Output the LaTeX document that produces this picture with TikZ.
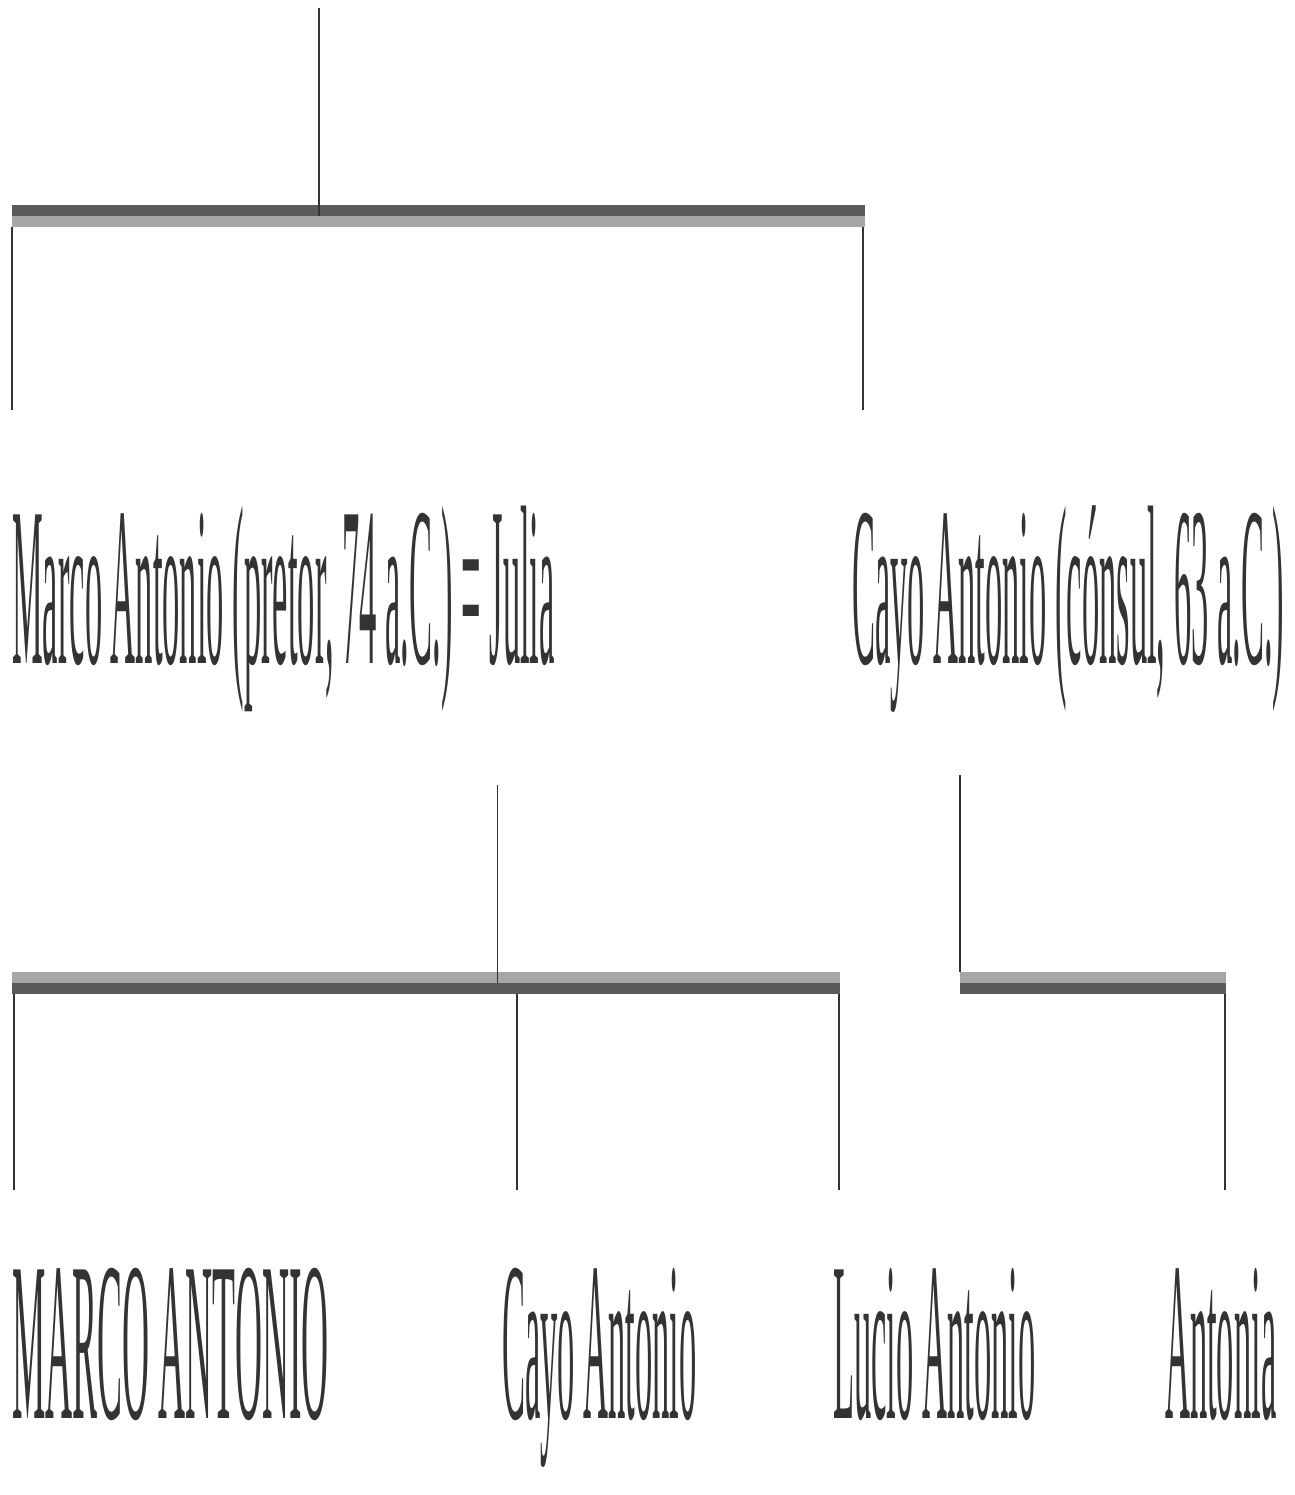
\documentclass[tikz,border=0pt]{standalone}
\usepackage{fontspec}
\setmainfont{Liberation Serif}
\usetikzlibrary{positioning}
\definecolor{BarDark}{HTML}{5A5A5A}
\definecolor{BarLight}{HTML}{A6A6A6}
\definecolor{Ink}{HTML}{333333}
\newcommand{\tallname}[2][1.52]{\scalebox{#1}[10]{#2}}

\begin{document}
\begin{tikzpicture}[x=1pt,y=-1pt,
  person/.style={anchor=base west,inner sep=0pt,font=\fontsize{22.7}{26}\selectfont,text=Ink},
  link/.style={draw=Ink,line width=1.6pt},
  band/.style={draw=#1,line width=11pt}
]
\useasboundingbox (0,0) rectangle (1294,1495);

% first generation
\node[person] (marco) at (12,663) {\tallname{Marco Antonio (pretor, 74 a.C.) =}};
\node[person] (julia) at ([xshift=8.6pt]marco.base east) {\tallname{Julia}};
\node[person] (cayocos) at (852,663) {\tallname{Cayo Antonio (cónsul, 63 a.C.)}};

% second generation
\node[person] (triumvir) at (12,1418) {\tallname[1.65]{MARCO ANTONIO}};
\node[person] (cayo) at (502,1418) {\tallname{Cayo Antonio}};
\node[person] (lucio) at (833,1418) {\tallname{Lucio Antonio}};
\node[person] (antonia) at (1165,1418) {\tallname{Antonia}};

% family bars
\coordinate (rootTop) at (319,8);
\coordinate (topL) at (12,216);
\coordinate (topR) at (865,216);
\coordinate (sonsL) at (12,983);
\coordinate (sonsR) at (840,983);
\coordinate (daughL) at (960,983);
\coordinate (daughR) at (1226,983);

\draw[band=BarDark] ([yshift=5.5pt]topL) -- ([yshift=5.5pt]topR);
\draw[band=BarLight] ([yshift=-5.5pt]topL) -- ([yshift=-5.5pt]topR);
\draw[band=BarLight] ([yshift=5.5pt]sonsL) -- ([yshift=5.5pt]sonsR);
\draw[band=BarDark] ([yshift=-5.5pt]sonsL) -- ([yshift=-5.5pt]sonsR);
\draw[band=BarLight] ([yshift=5.5pt]daughL) -- ([yshift=5.5pt]daughR);
\draw[band=BarDark] ([yshift=-5.5pt]daughL) -- ([yshift=-5.5pt]daughR);

% connectors
\draw[link] (rootTop) -- (rootTop |- topL);
\draw[link] ([yshift=-11pt]topL) -- (marco.west |- 0,410);
\draw[link] ([xshift=-2pt,yshift=-11pt]topR) -- ([xshift=-2pt]topR |- 0,410);
\draw[link] ([xshift=8pt]julia.west |- 0,785) -- ([xshift=8pt]julia.west |- sonsL);
\draw[link] (daughL |- 0,775) -- ([yshift=11pt]daughL);
\draw[link] ([xshift=2pt]triumvir.west |- sonsL) ++(0,11) -- ++(0,196);
\draw[link] ([xshift=15pt]cayo.west |- sonsL) ++(0,11) -- ++(0,196);
\draw[link] ([xshift=-1pt]sonsR) ++(0,11) -- ++(0,196);
\draw[link] ([xshift=-1pt]daughR) ++(0,11) -- ++(0,196);
\end{tikzpicture}
\end{document}
